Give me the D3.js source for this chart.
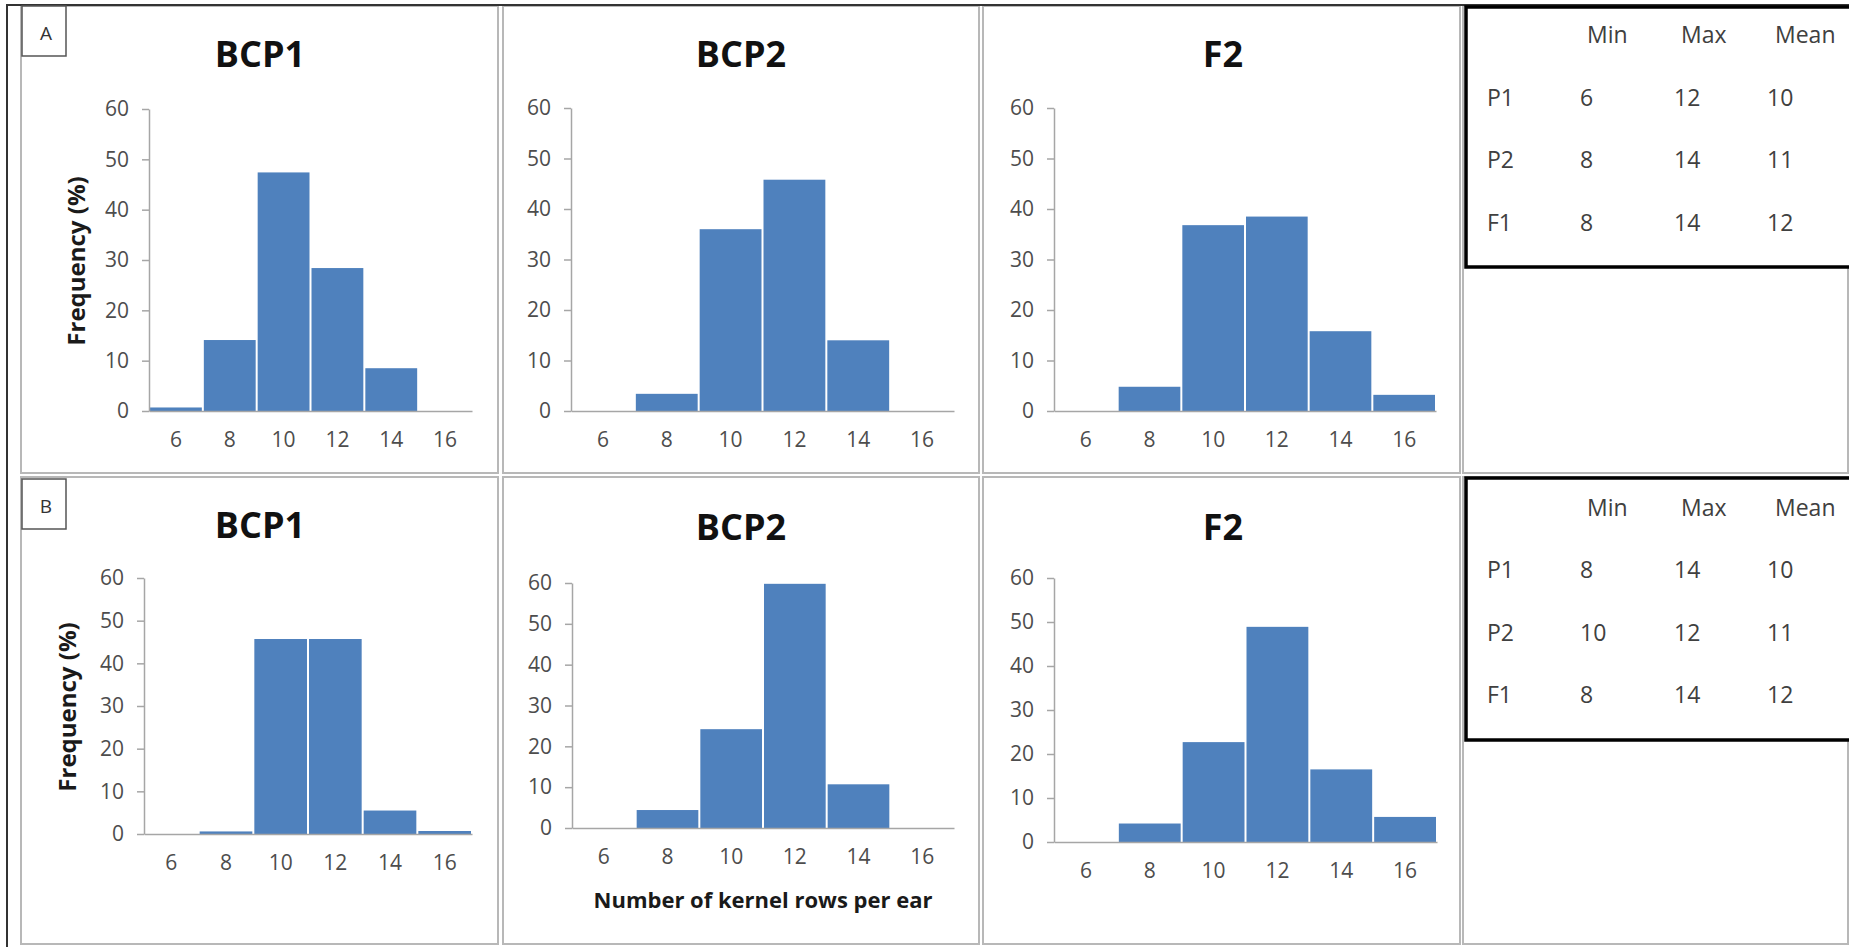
<!DOCTYPE html>
<html>
<head>
<meta charset="utf-8">
<script src="https://cdn.jsdelivr.net/npm/d3@7"></script>
<style>
  body { margin: 0; background: #fff; }
  svg { display: block; }
  text { font-family: "Open Sans", "DejaVu Sans", sans-serif; }
</style>
</head>
<body>
<div id="figure"></div>
<script>
// kernel row histograms, two seasons (A, B)

const bins = [6, 8, 10, 12, 14, 16];
const yTicks = [0, 10, 20, 30, 40, 50, 60];

const freqA_BCP1 = [0.7, 14.1, 47.4, 28.4, 8.5, 0];
const freqA_BCP2 = [0, 3.4, 36.0, 45.8, 14.0, 0];
const freqA_F2   = [0, 4.8, 36.8, 38.5, 15.8, 3.2];
const freqB_BCP1 = [0, 0.6, 45.7, 45.7, 5.5, 0.7];
const freqB_BCP2 = [0, 4.4, 24.2, 59.8, 10.7, 0];
const freqB_F2   = [0, 4.2, 22.7, 48.9, 16.5, 5.7];

const tableCols = ["Min", "Max", "Mean"];
const tableRows = ["P1", "P2", "F1"];
const tableA = [[6, 12, 10], [8, 14, 11], [8, 14, 12]];
const tableB = [[8, 14, 10], [10, 12, 11], [8, 14, 12]];

const width = 1849, height = 947;
const barColor = "#4f81bd";
const axisColor = "#a6a6a6";
const tickColor = "#4d4d4d";

const svg = d3.select("#figure")
    .append("svg")
    .attr("width", width)
    .attr("height", height);

svg.append("rect").attr("width", width).attr("height", height).attr("fill", "#fff");

// panel frames
const rowsY = [[6, 473], [477, 944]];
const colsX = [[21, 498], [503, 979], [983, 1460], [1463, 1848]];
rowsY.forEach(ry => {
    colsX.forEach(cx => {
        svg.append("rect")
            .attr("x", cx[0]).attr("y", ry[0])
            .attr("width", cx[1] - cx[0]).attr("height", ry[1] - ry[0])
            .attr("fill", "none")
            .attr("stroke", "#b8b8b8")
            .attr("stroke-width", 2);
    });
});

// outer dark frame (left + top)
svg.append("path")
    .attr("d", "M7,947 V5 H1849")
    .attr("fill", "none")
    .attr("stroke", "#333")
    .attr("stroke-width", 2);

// "A" / "B" tags
[["A", 6], ["B", 479]].forEach(([lab, y0]) => {
    svg.append("rect")
        .attr("x", 22).attr("y", y0)
        .attr("width", 44).attr("height", 50)
        .attr("fill", "#fff")
        .attr("stroke", "#555")
        .attr("stroke-width", 1.5);
    svg.append("text")
        .attr("x", 46).attr("y", y0 + 27)
        .attr("dy", "0.35em")
        .attr("text-anchor", "middle")
        .attr("font-size", "19px")
        .attr("fill", "#333")
        .text(lab);
});

const charts = [
    { title: "BCP1", values: freqA_BCP1, x0: 149, x1: 472, yTop: 109, yBot: 411, tx: 260, ty: 67, ylab: [77, 261] },
    { title: "BCP2", values: freqA_BCP2, x0: 571, x1: 954, yTop: 108, yBot: 411, tx: 741, ty: 67 },
    { title: "F2",   values: freqA_F2,   x0: 1054, x1: 1436, yTop: 108, yBot: 411, tx: 1223, ty: 67 },
    { title: "BCP1", values: freqB_BCP1, x0: 144, x1: 472, yTop: 578, yBot: 834, tx: 260, ty: 538, ylab: [68, 707] },
    { title: "BCP2", values: freqB_BCP2, x0: 572, x1: 954, yTop: 583, yBot: 828, tx: 741, ty: 540, xlab: [763, 900] },
    { title: "F2",   values: freqB_F2,   x0: 1054, x1: 1437, yTop: 578, yBot: 842, tx: 1223, ty: 540 }
];

charts.forEach(c => {
    const g = svg.append("g");
    const counts = bins.map((b, i) => ({ bin: b, value: c.values[i] }));

    const x = d3.scaleBand()
        .domain(bins)
        .range([c.x0, c.x1])
        .padding(0);

    const y = d3.scaleLinear()
        .domain([0, 60])
        .range([c.yBot, c.yTop]);

    // Bars
    g.selectAll("rect")
        .data(counts.filter(d => d.value > 0))
        .enter()
        .append("rect")
        .attr("x", d => x(d.bin) + 1)
        .attr("y", d => y(d.value))
        .attr("width", x.bandwidth() - 2)
        .attr("height", d => y(0) - y(d.value))
        .attr("fill", barColor);

    // Y axis
    const ya = g.append("g")
        .attr("transform", `translate(${c.x0}, 0)`)
        .call(d3.axisLeft(y).tickValues(yTicks).tickSize(7).tickSizeOuter(0).tickPadding(13));

    // X axis
    const xa = g.append("g")
        .attr("transform", `translate(0, ${c.yBot})`)
        .call(d3.axisBottom(x).tickSize(0).tickSizeOuter(0).tickPadding(21));

    [ya, xa].forEach(a => {
        a.select(".domain").attr("stroke", axisColor).attr("stroke-width", 1.5);
        a.selectAll(".tick line").attr("stroke", axisColor).attr("stroke-width", 1.5);
        a.selectAll(".tick text")
            .attr("fill", tickColor)
            .attr("font-size", "21px")
            .style("font-family", "'Open Sans', sans-serif");
    });

    // Chart Title
    g.append("text")
        .attr("x", c.tx)
        .attr("y", c.ty)
        .attr("text-anchor", "middle")
        .attr("font-size", "36px")
        .attr("font-weight", "bold")
        .attr("fill", "#111")
        .text(c.title);

    if (c.ylab) {
        g.append("text")
            .attr("transform", `translate(${c.ylab[0]}, ${c.ylab[1]}) rotate(-90)`)
            .attr("dy", "0.35em")
            .attr("text-anchor", "middle")
            .attr("font-size", "24px")
            .attr("font-weight", "bold")
            .attr("fill", "#1a1a1a")
            .text("Frequency (%)");
    }
    if (c.xlab) {
        g.append("text")
            .attr("x", c.xlab[0])
            .attr("y", c.xlab[1])
            .attr("dy", "0.35em")
            .attr("text-anchor", "middle")
            .attr("font-size", "22px")
            .attr("font-weight", "bold")
            .attr("fill", "#1a1a1a")
            .text("Number of kernel rows per ear");
    }
});

// Summary tables
const tables = [
    { data: tableA, top: 7, bottom: 267, rowY: [35, 98, 160, 223] },
    { data: tableB, top: 478, bottom: 740, rowY: [508, 570, 633, 695] }
];
const headX = [1587, 1681, 1775];
const valX = [1580, 1674, 1767];

tables.forEach(t => {
    const tg = svg.append("g");
    tg.append("rect")
        .attr("x", 1466).attr("y", t.top)
        .attr("width", 420).attr("height", t.bottom - t.top)
        .attr("fill", "#fff")
        .attr("stroke", "#000")
        .attr("stroke-width", 3.5);

    tg.selectAll("text.head")
        .data(tableCols)
        .enter()
        .append("text")
        .attr("class", "head")
        .attr("x", (d, i) => headX[i])
        .attr("y", t.rowY[0])
        .attr("dy", "0.35em")
        .attr("font-size", "23px")
        .attr("fill", "#404040")
        .text(d => d);

    t.data.forEach((row, r) => {
        tg.append("text")
            .attr("x", 1487)
            .attr("y", t.rowY[r + 1])
            .attr("dy", "0.35em")
            .attr("font-size", "23px")
            .attr("fill", "#404040")
            .text(tableRows[r]);
        tg.selectAll(null)
            .data(row)
            .enter()
            .append("text")
            .attr("x", (d, i) => valX[i])
            .attr("y", t.rowY[r + 1])
            .attr("dy", "0.35em")
            .attr("font-size", "23px")
            .attr("fill", "#404040")
            .text(d => d);
    });
});
</script>
</body>
</html>
